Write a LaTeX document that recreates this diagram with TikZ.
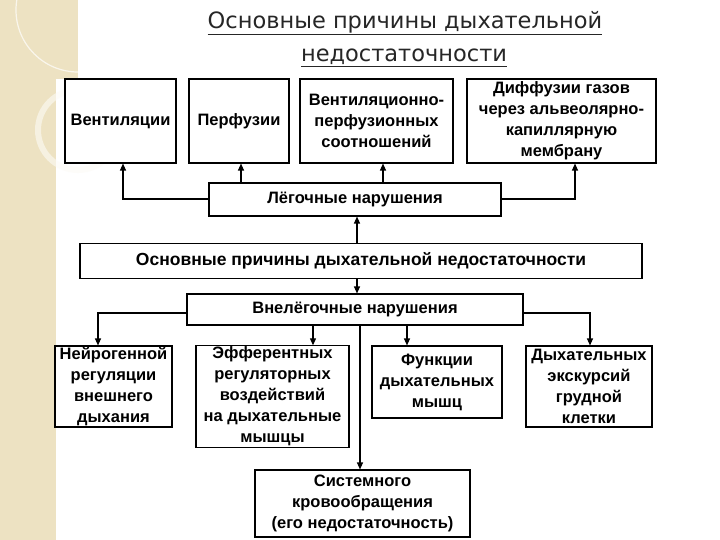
\documentclass[tikz,border=0pt]{standalone}
\usepackage{fontspec}
\setmainfont{Liberation Sans}
\newfontfamily\titlefont{DejaVu Sans}
\usetikzlibrary{arrows.meta}
\definecolor{beige}{HTML}{EDE2C2}
\begin{document}
\begin{tikzpicture}[x=1pt,y=-1pt,
  box/.style={draw=black,line width=1.1pt,fill=white,align=center,inner sep=1pt,font=\fontsize{16.5}{21}\selectfont\bfseries},
  arr/.style={line width=1.1pt,-{Triangle[length=7pt,width=6pt]}},
  ln/.style={line width=1.1pt}]
\useasboundingbox (0,0) rectangle (720,540);
\fill[white] (0,0) rectangle (720,540);
\fill[beige] (0,0) rectangle (78,79);
\fill[beige] (0,79) rectangle (56,540);
\draw[white,line width=1.2pt,opacity=0.7] (78,10) circle (62);
\draw[white!85!beige,line width=6pt,opacity=0.6] (78,130) circle (40);
% title
\node[font=\titlefont\fontsize{22.5}{26}\selectfont,text=black!85] (t1) at (405,23) {\underline{Основные причины дыхательной}};
\node[font=\titlefont\fontsize{22.5}{26}\selectfont,text=black!85] (t2) at (404,58) {\underline{недостаточности}};
% top row
\node[box,minimum width=111pt,minimum height=84pt] (v) at (120.5,121) {Вентиляции};
\node[box,minimum width=100pt,minimum height=84pt] (p) at (239,121) {Перфузии};
\node[box,minimum width=153pt,minimum height=84pt] (vp) at (376.5,121) {Вентиляционно-\\перфузионных\\соотношений};
\node[box,minimum width=189pt,minimum height=84pt] (d) at (561.5,121) {Диффузии газов\\через альвеолярно-\\капиллярную\\мембрану};
\node[box,minimum width=292pt,minimum height=33pt] (l) at (355,199.5) {Лёгочные нарушения};
\node[box,minimum width=562pt,minimum height=35pt,font=\fontsize{17.5}{21}\selectfont\bfseries] (o) at (361,261) {Основные причины дыхательной недостаточности};
\node[box,minimum width=336pt,minimum height=31pt] (vn) at (355,309.5) {Внелёгочные нарушения};
\node[box,minimum width=117pt,minimum height=81pt] (n) at (113.5,386.5) {Нейрогенной\\регуляции\\внешнего\\дыхания};
\node[box,minimum width=153pt,minimum height=101pt] (e) at (272.5,396.5) {Эфферентных\\регуляторных\\воздействий\\на дыхательные\\мышцы};
\node[box,minimum width=130pt,minimum height=72pt] (f) at (437,382) {Функции\\дыхательных\\мышц};
\node[box,minimum width=126pt,minimum height=81pt] (dy) at (589,386.5) {Дыхательных\\экскурсий\\грудной\\клетки};
\node[box,minimum width=215pt,minimum height=67pt] (s) at (362.5,503.5) {Системного\\кровообращения\\(его недостаточность)};
% connectors
\draw[arr] (l.west |- 0,199) -| (v.south -| 123,0);
\draw[arr] (l.north -| 241,0) -- (p.south -| 241,0);
\draw[arr] (l.north -| 383,0) -- (vp.south -| 383,0);
\draw[arr] (l.east |- 0,199) -| (d.south -| 575,0);
\draw[arr] (o.north -| 357,0) -- (l.south -| 357,0);
\draw[arr] (o.south -| 357,0) -- (vn.north -| 357,0);
\draw[arr] (vn.west |- 0,313) -| (n.north -| 98,0);
\draw[arr] (vn.south -| 313,0) -- (e.north -| 313,0);
\draw[arr] (vn.south -| 360,0) -- (s.north -| 360,0);
\draw[arr] (vn.south -| 407,0) -- (f.north -| 407,0);
\draw[arr] (vn.east |- 0,313) -| (dy.north -| 590,0);
\end{tikzpicture}
\end{document}
